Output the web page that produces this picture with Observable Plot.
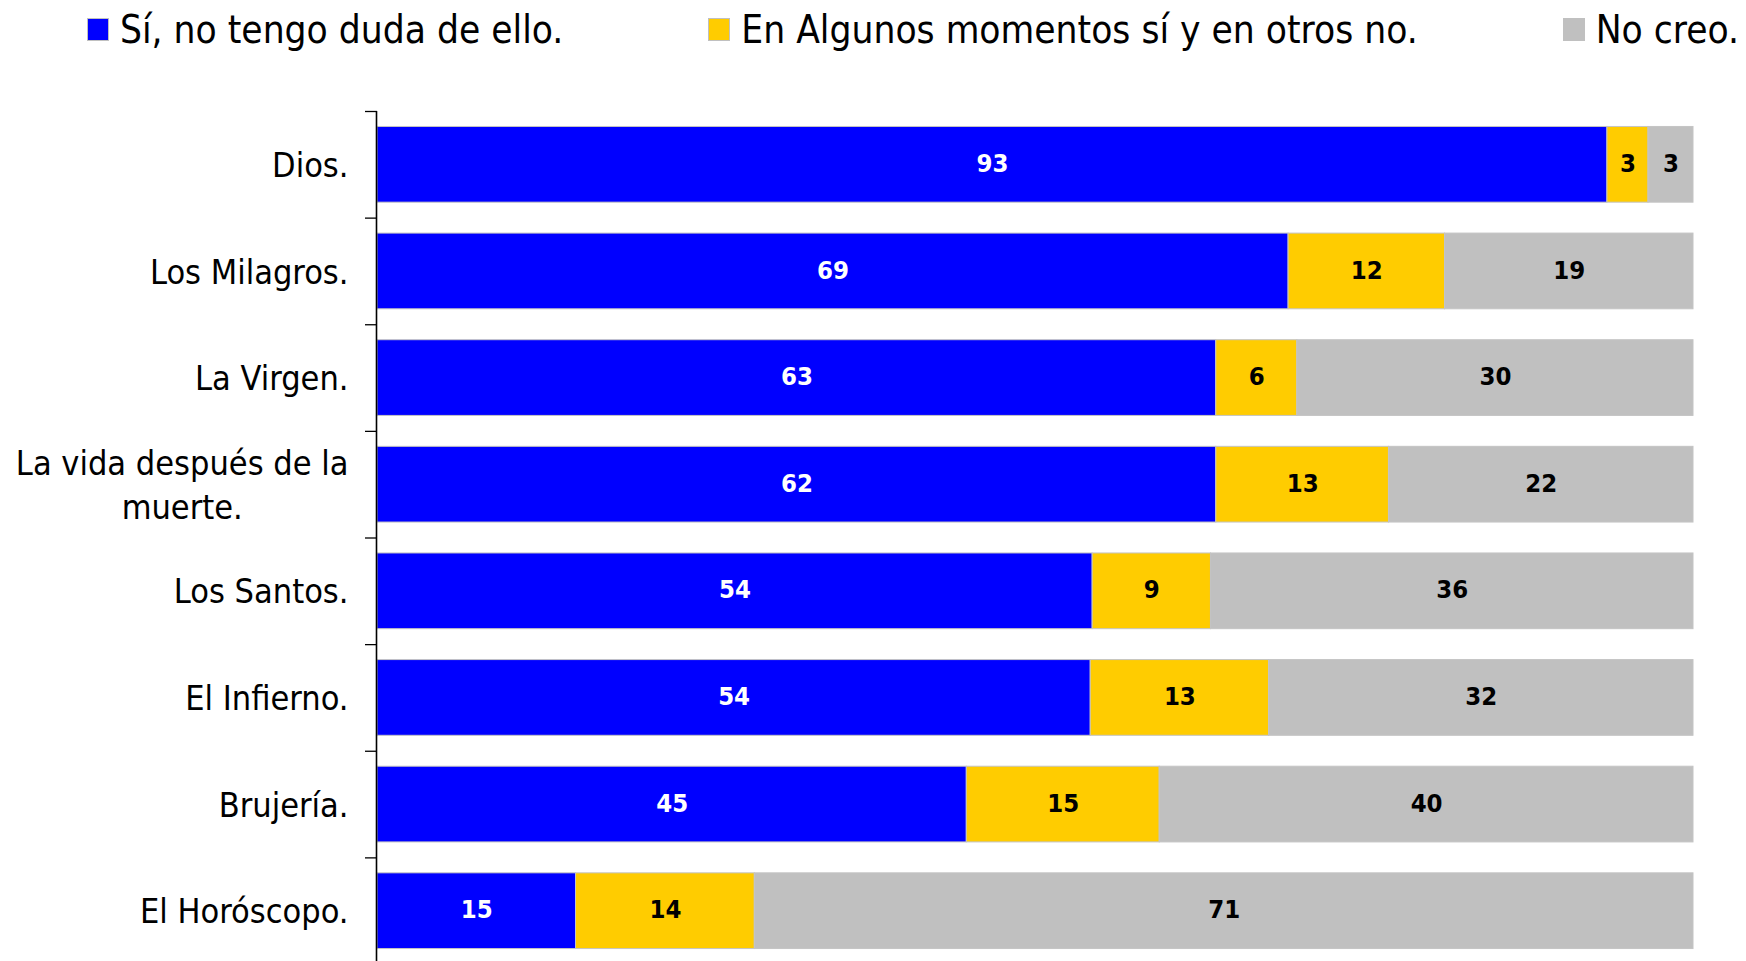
<!DOCTYPE html>
<html><head><meta charset="utf-8">
<script src="https://cdn.jsdelivr.net/npm/d3@7"></script>
<script src="https://cdn.jsdelivr.net/npm/@observablehq/plot@0.6"></script>
<style>
html,body{margin:0;padding:0;background:#fff;overflow:hidden;}
body{width:1746px;height:961px;position:relative;font-family:"DejaVu Sans Condensed","DejaVu Sans",sans-serif;font-stretch:condensed;}
#legend{position:absolute;left:87px;width:1652px;top:0;height:58px;display:flex;justify-content:space-between;align-items:center;font-size:38.5px;color:#000;}
.item{display:flex;align-items:center;white-space:nowrap;}
.sw{width:22px;height:23px;border:1px solid #c0c0c0;box-sizing:border-box;margin-right:11px;}
#chart{position:absolute;left:0;top:0;}
svg text{font-stretch:condensed;}
</style></head><body>
<div id="chart"></div><div id="legend"></div>
<script>
const categories = ["Dios.", "Los Milagros.", "La Virgen.", "La vida después de la\nmuerte.", "Los Santos.", "El Infierno.", "Brujería.", "El Horóscopo."];
const series = ["Sí, no tengo duda de ello.", "En Algunos momentos sí y en otros no.", "No creo."];
// percentages (unrounded estimates; printed labels are the rounded values)
const yes = [92.9, 69.3, 63.1, 61.7, 53.8, 53.6, 44.6, 15.1];
const sometimes = [3.1, 11.9, 6.1, 12.7, 8.9, 13.4, 14.6, 13.6];
const no = [3.4, 18.9, 29.8, 22.4, 36.3, 31.9, 40.4, 71.4];
const colors = ["#0000ff", "#ffcc00", "#c0c0c0"];

const data = categories.flatMap((c, i) => [yes, sometimes, no].map((arr, j) => ({cat: c, series: series[j], value: arr[i]})));

const W = 1746, H = 980, mt = 111, mb = 16, ml = 377, mr = 53;
const step = (H - mt - mb) / categories.length;
const font = '"DejaVu Sans Condensed","DejaVu Sans",sans-serif';

const stackOpts = {x: "value", y: "cat", z: "series", offset: "normalize"};
const label = d => String(Math.round(d.value));

const chart = Plot.plot({
  width: W, height: H, marginTop: mt, marginBottom: mb, marginLeft: ml, marginRight: mr,
  style: {fontFamily: font, background: "white", color: "black"},
  x: {axis: null, domain: [0, 1]},
  y: {domain: categories, paddingInner: 0.29, paddingOuter: 0.145, round: false, label: null, axis: null},
  color: {domain: series, range: colors},
  marks: [
    Plot.barX(data, Plot.stackX({...stackOpts, fill: "series", stroke: "#c4c4c4", strokeWidth: 1})),
    Plot.text(data, Plot.filter(d => d.series === series[0], Plot.stackX({...stackOpts, text: label, fill: "white", fontWeight: "bold", fontSize: 25.5, dy: -1}))),
    Plot.text(data, Plot.filter(d => d.series !== series[0], Plot.stackX({...stackOpts, text: label, fill: "black", fontWeight: "bold", fontSize: 25.5, dy: -1}))),
    Plot.ruleX([0], {stroke: "black", strokeWidth: 1.6, dx: -1}),
    Plot.axisY({anchor: "left", tickSize: 0, tickPadding: 29, fontSize: 34, lineHeight: 1.3, label: null, fill: "black", dy: -2}),
    Plot.axisY({anchor: "left", tickSize: 12, tickFormat: () => "", label: null, dy: -step / 2, stroke: "black", strokeWidth: 1.3})
  ]
});
document.getElementById("chart").append(chart);

// center multi-line category labels as a block (right-aligned block, centered lines)
chart.querySelectorAll('g[aria-label="y-axis tick label"] text').forEach(t => {
  const tsp = t.querySelectorAll("tspan");
  if (tsp.length > 1) {
    const w = Math.max(...[...tsp].map(s => s.getComputedTextLength()));
    t.setAttribute("text-anchor", "middle");
    const tr = t.getAttribute("transform") || "";
    t.setAttribute("transform", tr + ` translate(${-w / 2},0)`);
  }
});

// legend
const legend = document.getElementById("legend");
series.forEach((s, i) => {
  const item = document.createElement("div");
  item.className = "item";
  const sw = document.createElement("div");
  sw.className = "sw";
  sw.style.background = colors[i];
  const lab = document.createElement("span");
  lab.textContent = s;
  item.append(sw, lab);
  legend.append(item);
});
</script>
</body></html>
